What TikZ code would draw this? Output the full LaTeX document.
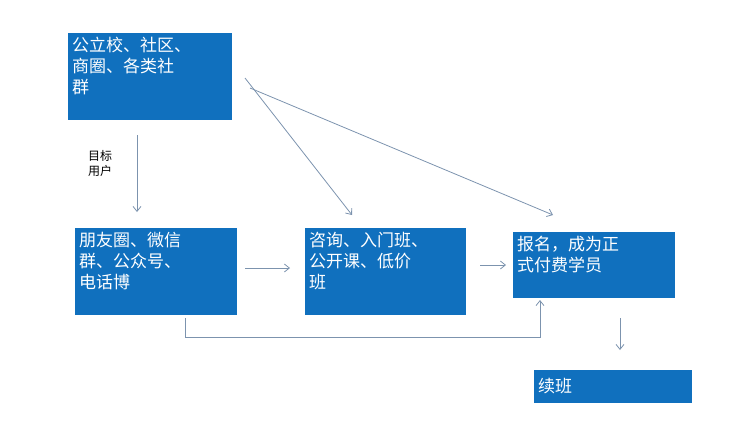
\documentclass[tikz,border=0pt]{standalone}
\usepackage{fontspec}
\newfontfamily\cjk{Noto Sans CJK SC}
\usetikzlibrary{arrows.meta}
\definecolor{boxblue}{HTML}{1070BE}
\definecolor{arr}{HTML}{7C93AE}
\begin{document}
\begin{tikzpicture}[x=1pt,y=-1pt,
  bx/.style={fill=boxblue,text=white,font=\cjk\fontsize{17}{21}\selectfont,align=left,anchor=north west,inner sep=4pt,text width=#1},
  bx/.default=150pt,
  con/.style={draw=arr,line width=0.8pt,-{Straight Barb[length=5pt,width=8pt]}}]
\useasboundingbox (0,0) rectangle (732,440);
\fill[boxblue] (68,33) rectangle (232,120);
\node[bx] (a) at (68,33) {公立校、社区、\\商圈、各类社\\群};
\path (68,33) rectangle (232,120) coordinate (aSE);
\fill[boxblue] (75,228) rectangle (237,315);
\node[bx] (b) at (75,228) {朋友圈、微信\\群、公众号、\\电话博};
\fill[boxblue] (305,228) rectangle (466,315);
\node[bx] (c) at (305,228) {咨询、入门班、\\公开课、低价\\班};
\fill[boxblue] (513,232) rectangle (675,298);
\node[bx] (d) at (513,232) {报名，成为正\\式付费学员};
\fill[boxblue] (534,370) rectangle (692,403);
\node[bx,anchor=west] (e) at (534,386.5) {续班};
\node[font=\cjk\fontsize{12}{15}\selectfont,align=left,anchor=north west,inner sep=0pt] (lab) at (88,150) {目标\\用户};
\coordinate (a1) at (137,135); \coordinate (a2) at (137,212);
\draw[con] (a1) -- (a2);
\coordinate (b1) at (245,268); \coordinate (b2) at (290,268);
\draw[con] (b1) -- (b2);
\coordinate (c1) at (480,265); \coordinate (c2) at (506,265);
\draw[con] (c1) -- (c2);
\coordinate (l1) at (185,318); \coordinate (l2) at (540,337); \coordinate (l3) at (540,300);
\draw[con] (l1) |- (l2) -- (l3);
\coordinate (s1) at (245,78); \coordinate (s2) at (352,215);
\draw[con] (s1) -- (s2);
\coordinate (t1) at (250,88); \coordinate (t2) at (553,215);
\draw[con] (t1) -- (t2);
\coordinate (d1) at (620,318); \coordinate (d2) at (620,350);
\draw[con] (d1) -- (d2);
\end{tikzpicture}
\end{document}
